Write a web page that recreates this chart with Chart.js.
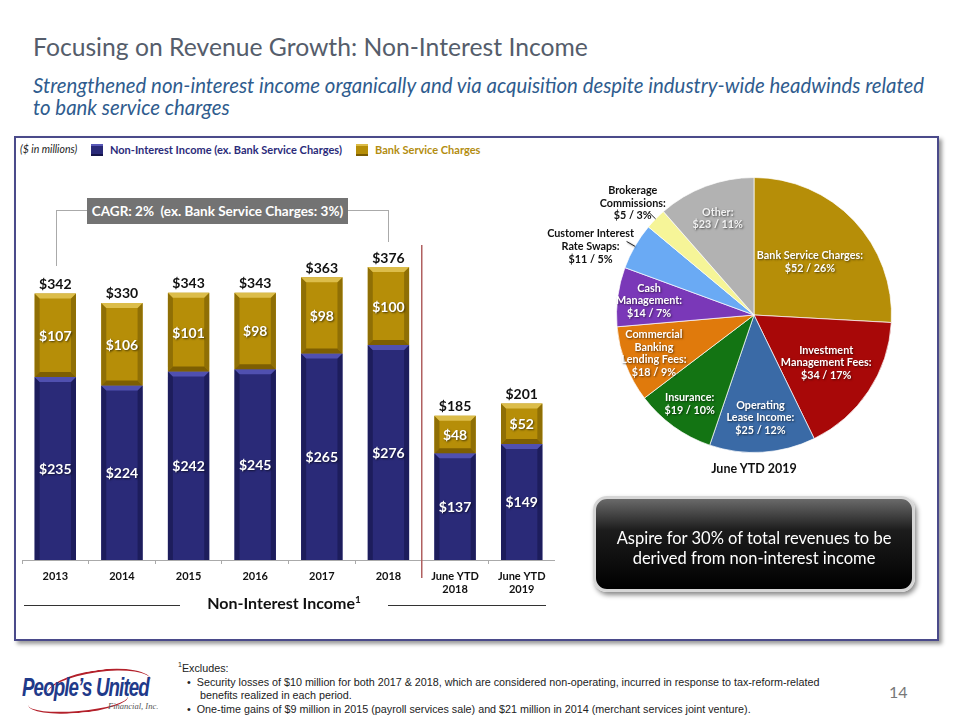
<!DOCTYPE html>
<html><head><meta charset="utf-8">
<script src="https://cdn.jsdelivr.net/npm/chart.js@4/dist/chart.umd.min.js"></script>
<style>
body{margin:0;width:960px;height:720px;position:relative;background:#fff;font-family:Lato,"Open Sans",sans-serif;overflow:hidden}
.a{position:absolute;white-space:nowrap}
</style></head><body>
<script>
// ---------- DATA ----------
const categories = [['2013'],['2014'],['2015'],['2016'],['2017'],['2018'],['June YTD','2018'],['June YTD','2019']];
const nonInterestExBSC = [235,224,242,245,265,276,137,149];
const bankServiceCharges = [107,106,101,98,98,100,48,52];
const totals = [342,330,343,343,363,376,185,201];
const seriesNames = ['Non-Interest Income (ex. Bank Service Charges)','Bank Service Charges'];

const pieLabels = [
  ['Bank Service Charges:'],
  ['Investment','Management Fees:'],
  ['Operating','Lease Income:'],
  ['Insurance:'],
  ['Commercial','Banking','Lending Fees:'],
  ['Cash','Management:'],
  ['Customer Interest','Rate Swaps:'],
  ['Brokerage','Commissions:'],
  ['Other:']
];
const pieValues = [52,34,25,19,18,14,11,5,23];
const piePercents = [26,17,12,10,9,7,5,3,11];
</script>

<div class="a" style="left:33px;top:32px;font-size:24.7px;color:#555d6b;">Focusing on Revenue Growth: Non-Interest Income</div>
<div class="a" style="left:33px;top:74px;font-size:20.4px;line-height:22px;font-style:italic;color:#2f5c8e;white-space:normal;width:925px;">Strengthened non-interest income organically and via acquisition despite industry-wide headwinds related<br>to bank service charges</div>

<div class="a" style="left:14px;top:136px;width:921px;height:501px;border:2px solid #4a4a8a;box-shadow:3px 3px 4px #999;"></div>

<div class="a" style="left:20px;top:143px;font-size:10.5px;font-style:italic;color:#222;">($ in millions)</div>
<div class="a" style="left:91px;top:144px;width:12px;height:12px;background:#2a2a78;box-shadow:inset 0 2px 0 #5a5ab8,inset 0 -2px 0 #15154a;"></div>
<div class="a" style="left:110px;top:143px;font-size:11px;font-weight:bold;color:#2b2b7a;">Non-Interest Income (ex. Bank Service Charges)</div>
<div class="a" style="left:356px;top:144px;width:12px;height:12px;background:#b68e08;box-shadow:inset 0 2px 0 #dcbc48,inset 0 -2px 0 #7a5c02;"></div>
<div class="a" style="left:375px;top:143px;font-size:11px;font-weight:bold;color:#b38d10;">Bank Service Charges</div>

<!-- CAGR bracket -->
<div class="a" style="left:56px;top:210px;width:32px;height:55px;border-left:1px solid #aaa;border-top:1px solid #aaa;"></div>
<div class="a" style="left:348px;top:210px;width:40px;height:31px;border-right:1px solid #aaa;border-top:1px solid #aaa;"></div>
<div class="a" style="left:87px;top:198px;width:261px;height:26px;background:#737373;color:#fff;font-weight:bold;font-size:13.5px;line-height:26px;text-align:center;">CAGR: 2%&nbsp; (ex. Bank Service Charges: 3%)</div>

<canvas id="bar" class="a" width="533" height="380" style="left:22px;top:225px;"></canvas>
<canvas id="pie" class="a" width="418" height="300" style="left:545px;top:165px;"></canvas>

<div class="a" style="left:24px;top:605px;width:156px;border-top:1px solid #333;"></div>
<div class="a" style="left:388px;top:605px;width:158px;border-top:1px solid #333;"></div>
<div class="a" style="left:180px;top:593px;width:208px;text-align:center;font-size:16px;font-weight:bold;color:#111;">Non-Interest Income<sup style="font-size:10px;line-height:0">1</sup></div>

<div class="a" style="left:654px;top:461px;width:200px;text-align:center;font-size:12.5px;font-weight:bold;color:#111;">June YTD 2019</div>

<div class="a" style="left:593px;top:496px;width:316px;height:90px;border-radius:14px;border:3px solid #d6d6d6;background:linear-gradient(#6a6a6a 0%,#1c1c1c 35%,#000 100%);box-shadow:2px 3px 5px #888;"></div>
<div class="a" style="left:596px;top:528px;width:316px;text-align:center;color:#fff;font-size:16.5px;line-height:20px;white-space:normal;">Aspire for 30% of total revenues to be<br>derived from non-interest income</div>

<!-- logo -->
<div class="a" style="left:46px;top:670px;width:106px;height:34px;border-radius:50%;border-top:2.5px solid #b3202a;transform:rotate(-8deg);"></div>
<div class="a" style="left:22px;top:673px;font-family:'Liberation Sans',sans-serif;font-size:25px;font-weight:bold;font-style:italic;color:#1f3a8a;letter-spacing:-1.2px;transform:scaleX(0.75);transform-origin:left top;">People’s United</div>
<div class="a" style="left:28px;top:689px;width:100px;height:22px;border-radius:50%;border-bottom:2.5px solid #b3202a;transform:rotate(-5deg);"></div>
<div class="a" style="left:108px;top:701px;font-family:'Liberation Serif',serif;font-size:8.5px;font-style:italic;color:#555;">Financial, Inc.</div>

<div class="a" style="left:178px;top:662px;font-family:'Liberation Sans',Arial,sans-serif;font-size:10.75px;line-height:13.6px;color:#222;white-space:normal;width:700px;">
<sup style="font-size:7px;line-height:0">1</sup>Excludes:<br>
<span style="margin-left:9px">•&nbsp;&nbsp;Security losses of $10 million for both 2017 &amp; 2018, which are considered non-operating, incurred in response to tax-reform-related</span><br>
<span style="margin-left:22px">benefits realized in each period.</span><br>
<span style="margin-left:9px">•&nbsp;&nbsp;One-time gains of $9 million in 2015 (payroll services sale) and $21 million in 2014 (merchant services joint venture).</span>
</div>
<div class="a" style="left:889px;top:682px;font-size:16px;color:#777;">14</div>

<script>
const NAVY='#2a2a78', GOLD='#b68e08';
const bevelPlugin = {
  id:'bevel',
  afterDatasetsDraw(chart){
    const ctx=chart.ctx;
    const styles=[{hi:'#5050b0',lo:'#17174c',side:'#1d1d5c'},{hi:'#dcbd4a',lo:'#7d5e02',side:'#8f6f05'}];
    chart.data.datasets.forEach((ds,di)=>{
      const meta=chart.getDatasetMeta(di);
      const st=styles[di];
      meta.data.forEach(el=>{
        const p=el.getProps(['x','y','base','width'],true);
        const l=p.x-p.width/2, r=p.x+p.width/2, t=p.y, b=p.base, k=5;
        ctx.save();
        ctx.fillStyle=st.side;
        ctx.beginPath();ctx.moveTo(l,t);ctx.lineTo(l+k,t+k);ctx.lineTo(l+k,b-(di?k:0));ctx.lineTo(l,b);ctx.closePath();ctx.fill();
        ctx.beginPath();ctx.moveTo(r,t);ctx.lineTo(r-k,t+k);ctx.lineTo(r-k,b-(di?k:0));ctx.lineTo(r,b);ctx.closePath();ctx.fill();
        ctx.fillStyle=st.hi;
        ctx.beginPath();ctx.moveTo(l,t);ctx.lineTo(r,t);ctx.lineTo(r-k,t+k);ctx.lineTo(l+k,t+k);ctx.closePath();ctx.fill();
        if(di){ctx.fillStyle=st.lo;ctx.beginPath();ctx.moveTo(l,b);ctx.lineTo(r,b);ctx.lineTo(r-k,b-k);ctx.lineTo(l+k,b-k);ctx.closePath();ctx.fill();}
        ctx.restore();
      });
    });
    // labels
    ctx.save();
    ctx.textAlign='center';ctx.textBaseline='middle';
    ctx.font='bold 14px Lato, sans-serif';
    chart.data.datasets.forEach((ds,di)=>{
      chart.getDatasetMeta(di).data.forEach((el,i)=>{
        const p=el.getProps(['x','y','base'],true);
        ctx.fillStyle='#fff';
        ctx.shadowColor='rgba(0,0,0,0.6)';ctx.shadowBlur=2;ctx.shadowOffsetX=1;ctx.shadowOffsetY=1;
        ctx.fillText('$'+ds.data[i],p.x,(p.y+p.base)/2+1);
      });
    });
    ctx.shadowColor='transparent';
    const top=chart.getDatasetMeta(1).data;
    top.forEach((el,i)=>{
      ctx.fillStyle='#111';
      ctx.fillText('$'+totals[i],el.x,el.y-9);
    });
    // separator line between annual and YTD
    const xs=chart.scales.x;
    const sx=(xs.getPixelForValue(5)+xs.getPixelForValue(6))/2;
    ctx.strokeStyle='#b06060';ctx.lineWidth=1.5;
    ctx.beginPath();ctx.moveTo(sx,20);ctx.lineTo(sx,353);ctx.stroke();
    ctx.restore();
  }
};

new Chart(document.getElementById('bar'),{
  type:'bar',
  data:{labels:categories,datasets:[
    {label:seriesNames[0],data:nonInterestExBSC,backgroundColor:NAVY,barPercentage:0.62,categoryPercentage:1},
    {label:seriesNames[1],data:bankServiceCharges,backgroundColor:GOLD,barPercentage:0.62,categoryPercentage:1}
  ]},
  options:{
    responsive:false,animation:false,devicePixelRatio:1,
    layout:{padding:0},
    plugins:{legend:{display:false},tooltip:{enabled:false}},
    scales:{
      x:{stacked:true,
        afterFit(s){s.height=45;},
        border:{display:true,color:'#aaa',width:1},
        grid:{display:true,drawOnChartArea:false,offset:true,color:'#aaa',tickLength:4},
        ticks:{color:'#111',font:{family:'Lato',size:11,weight:'bold'},padding:6,maxRotation:0}},
      y:{stacked:true,display:false,min:0,max:430}
    }
  },
  plugins:[bevelPlugin]
});

const pieColors=['#b68e08','#a80808','#3a6aa6','#137413','#e07a0c','#7a38b8','#6aaaf4','#f6f598','#b2b2b2'];
const pieLabelStyle=[
  {r:0.56},{r:0.63},{r:0.75},{r:0.8},{r:0.78},{r:0.77},
  {out:true,dx:-36,dy:5},{out:true,dx:-16,dy:-9},{r:0.75}
];
const pieLabelPlugin={
  id:'pieLabels',
  afterDatasetsDraw(chart){
    const ctx=chart.ctx;
    ctx.save();
    ctx.textAlign='center';ctx.textBaseline='middle';
    ctx.font='bold 10.8px Lato, sans-serif';
    chart.getDatasetMeta(0).data.forEach((el,i)=>{
      const p=el.getProps(['x','y','startAngle','endAngle','outerRadius'],true);
      const mid=(p.startAngle+p.endAngle)/2;
      const st=pieLabelStyle[i];
      const lines=pieLabels[i].concat(['$'+pieValues[i]+' / '+piePercents[i]+'%']);
      let cx,cy;
      if(st.out){
        const ex=p.x+Math.cos(mid)*p.outerRadius, ey=p.y+Math.sin(mid)*p.outerRadius;
        const lx=p.x+Math.cos(mid)*p.outerRadius*1.07, ly=p.y+Math.sin(mid)*p.outerRadius*1.07;
        ctx.strokeStyle='#222';ctx.lineWidth=1;
        ctx.beginPath();ctx.moveTo(ex,ey);ctx.lineTo(lx,ly);ctx.stroke();
        cx=lx+st.dx;cy=ly+st.dy;
        ctx.fillStyle='#111';ctx.shadowColor='transparent';
      } else {
        cx=p.x+Math.cos(mid)*p.outerRadius*st.r;cy=p.y+Math.sin(mid)*p.outerRadius*st.r;
        ctx.fillStyle=i===8?'#f2f2f2':'#fff';
        ctx.shadowColor='rgba(0,0,0,0.55)';ctx.shadowBlur=2;ctx.shadowOffsetX=1;ctx.shadowOffsetY=1;
      }
      const lh=12.6;
      lines.forEach((t,j)=>ctx.fillText(t,cx,cy+(j-(lines.length-1)/2)*lh));
    });
    ctx.restore();
  }
};
new Chart(document.getElementById('pie'),{
  type:'pie',
  data:{labels:pieLabels.map(l=>l.join(' ')),datasets:[{data:pieValues,backgroundColor:pieColors,borderColor:'rgba(255,255,255,0.7)',borderWidth:1}]},
  options:{responsive:false,animation:false,devicePixelRatio:1,layout:{padding:12},
    plugins:{legend:{display:false},tooltip:{enabled:false}}},
  plugins:[pieLabelPlugin]
});
</script>
</body></html>
